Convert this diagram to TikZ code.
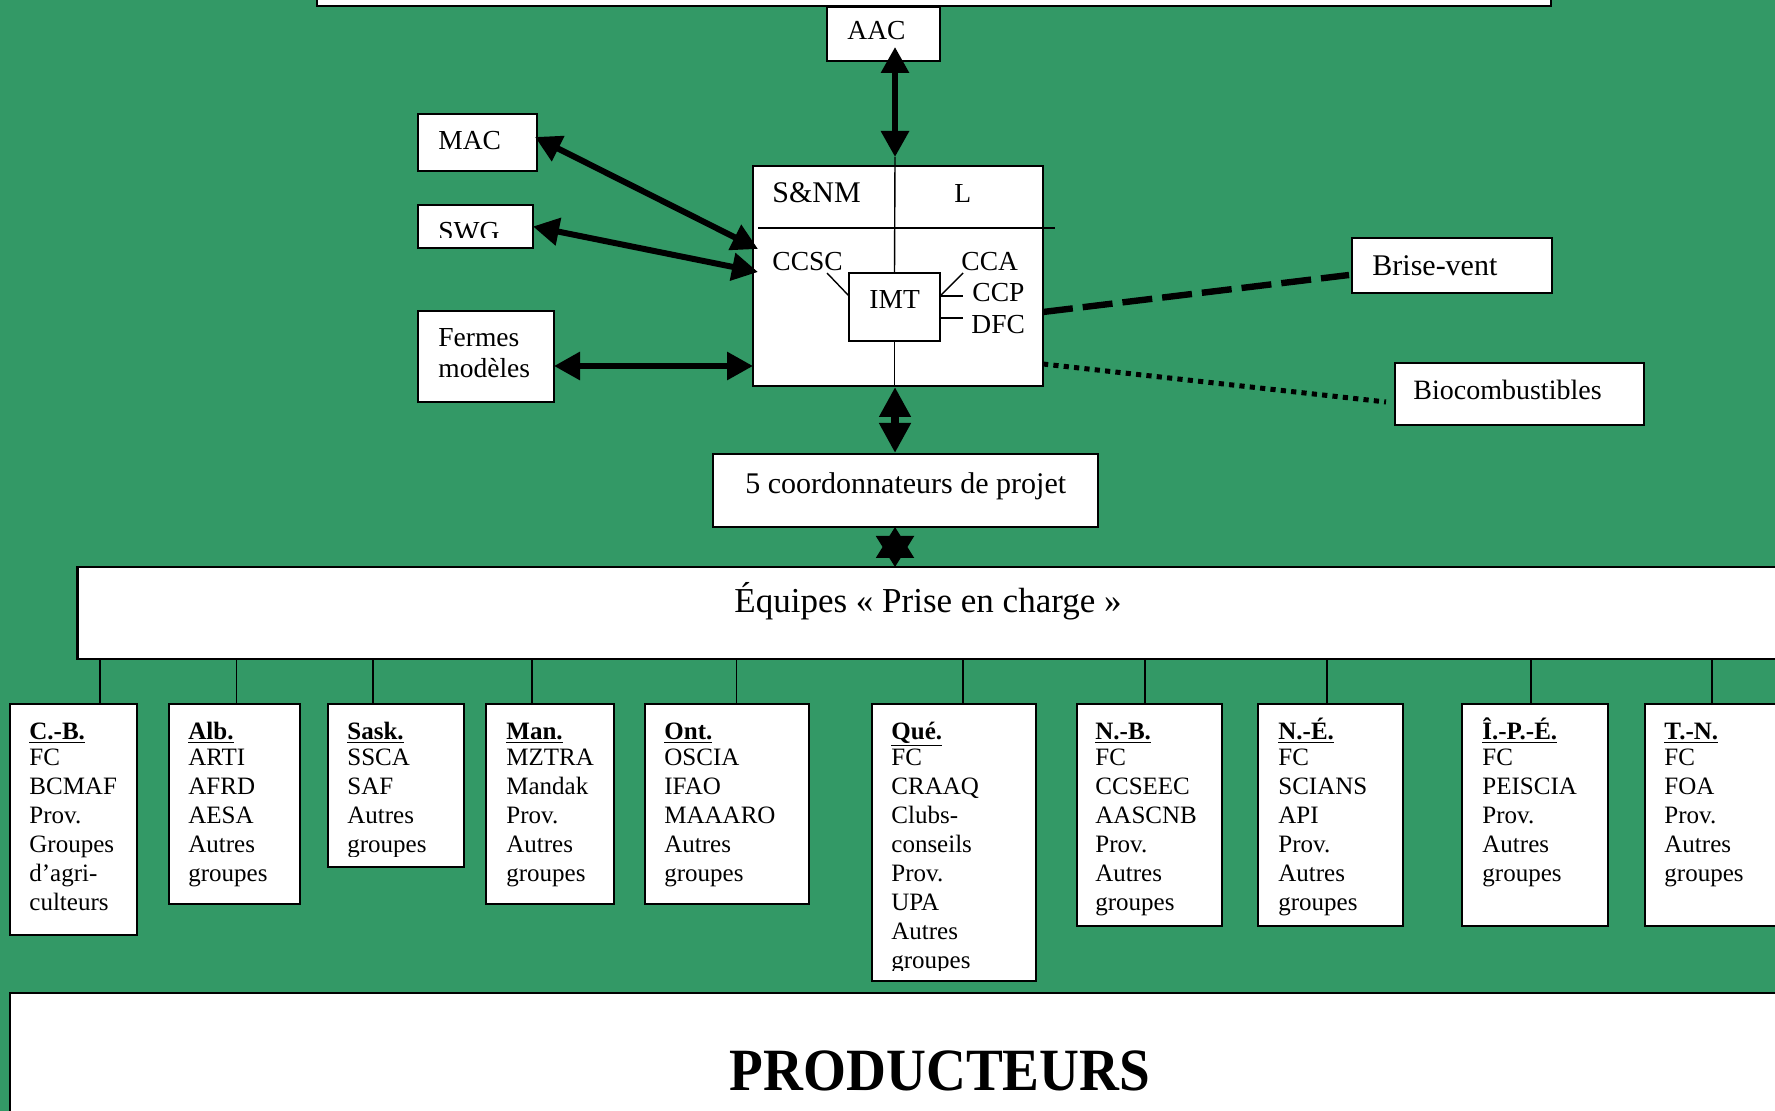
\documentclass[tikz,border=0pt]{standalone}
\usepackage{fontspec}
\setmainfont{Liberation Serif}
\usetikzlibrary{arrows.meta}
\definecolor{bg}{HTML}{339966}
\newcommand\mybox[5]{\node[bx, minimum width={(#4-#2)*0.5pt}, minimum height={(#5-#3)*0.5pt}] (#1) at (#2,#3) {};}
\newcommand\prov[7]{%
  \mybox{#1}{#2}{704}{#3}{#4}
  \begin{scope}
    \clip (#2,704) rectangle (#3,{#4-11});
    \node[ptxt] (#1-h) at (#5,739) {\underline{\textbf{#6}}};
    \foreach \t [count=\i] in {#7} {\node[ptxt] (#1-\i) at (#5,{765+29*(\i-1)}) {\t};}
  \end{scope}}
\begin{document}
\begin{tikzpicture}[x=0.5pt,y=-0.5pt,
  bx/.style={draw=black, line width=1.2pt, fill=white, rectangle, inner sep=0pt, outer sep=0pt, anchor=north west},
  lbl/.style={anchor=base west, inner sep=0pt, font=\fontsize{13.75}{16}\selectfont},
  ptxt/.style={anchor=base west, inner sep=0pt, font=\fontsize{12.5}{14}\selectfont},
  thinline/.style={line width=0.7pt},
  dbl/.style={line width=3pt, {Triangle[length=13pt,width=13.5pt]}-{Triangle[length=13pt,width=13.5pt]}},
  dblbig/.style={line width=4pt, {Triangle[length=15pt,width=15pt]}-{Triangle[length=15pt,width=15pt]}},
  dblstar/.style={line width=1pt, {Triangle[length=15.5pt,width=19pt]}-{Triangle[length=15.5pt,width=19pt]}},
]
\clip (0,0) rectangle (1775,1111);
\fill[bg] (0,0) rectangle (1775,1111);

% boxes
\mybox{top}{317}{-20}{1551}{6}
\mybox{aac}{827}{7}{940}{61}
\mybox{mac}{418}{114}{537}{171}
\mybox{swg}{418}{205}{533}{248}
\mybox{fermes}{418}{311}{554}{402}
\mybox{main}{753}{166}{1043}{386}
\mybox{imt}{849}{273}{940}{341}
\mybox{brise}{1352}{238}{1552}{293}
\mybox{bio}{1395}{363}{1644}{425}
\mybox{coord}{713}{454}{1098}{527}
\mybox{equipes}{77.5}{567}{1790}{659}
\mybox{prod}{10}{993}{1790}{1130}

% texts
\node[lbl] (aac-t) at (847,40) {AAC};
\node[lbl] (mac-t) at (438,150) {MAC};
\begin{scope}
  \clip (418,205) rectangle (533,238);
  \node[lbl] (swg-t) at (438,241) {SWG};
\end{scope}
\node[lbl] (fermes-t1) at (438,347) {Fermes};
\node[lbl] (fermes-t2) at (438,378) {modèles};
\node[lbl, font=\fontsize{15}{17}\selectfont] (snm) at (772,203) {S\&NM};
\node[lbl] (l) at (954,203) {L};
\node[lbl] (ccsc) at (772,271) {CCSC};
\node[lbl] (cca) at (961,271) {CCA};
\node[lbl] (ccp) at (972,302) {CCP};
\node[lbl] (dfc) at (971,334) {DFC};
\node[lbl] (imt-t) at (869,309) {IMT};
\node[lbl, font=\fontsize{15}{17}\selectfont] (brise-t) at (1372,276) {Brise-vent};
\node[lbl, font=\fontsize{14}{17}\selectfont] (bio-t) at (1413,400) {Biocombustibles};
\node[lbl, font=\fontsize{15}{17}\selectfont] (coord-t) at (745,494) {5 coordonnateurs de projet};
\node[lbl, font=\fontsize{17.5}{20}\selectfont] (equipes-t) at (734,612) {Équipes « Prise en charge »};
\node[anchor=base, inner sep=0pt, xscale=0.92, font=\fontsize{30}{34}\selectfont\bfseries] (prod-t) at (940,1090) {PRODUCTEURS};

% inner lines of the main box
\coordinate (hl1) at (758,228);
\coordinate (hl2) at (1055,228);
\draw[thinline] (hl1) -- (hl2);
\coordinate (mainT) at (895,157);
\draw[thinline] (mainT) -- (imt.north);
\draw[thinline] (imt.south) -- (imt.south |- main.south);
\coordinate (ccscE) at (827,273);
\coordinate (ccaE) at (963,273);
\coordinate (imtW) at (849,296);
\coordinate (imtE1) at (940,296);
\coordinate (imtE2) at (940,318);
\coordinate (ccpW) at (963,296);
\coordinate (dfcW) at (963,318);
\draw[thinline] (ccscE) -- (imtW);
\draw[thinline] (ccaE) -- (imtE1);
\draw[thinline] (imtE1) -- (ccpW);
\draw[thinline] (imtE2) -- (dfcW);

% arrows
\coordinate (aacT) at (895,47);
\draw[dbl] (aacT) -- (mainT);
\coordinate (macE) at (535,137);
\coordinate (macM) at (758,249);
\draw[dbl] (macE) -- (macM);
\coordinate (swgM) at (758,272);
\draw[dbl] (swg.east) -- (swgM);
\coordinate (ferE) at (554,366);
\coordinate (ferM) at (753,366);
\draw[dbl] (ferE) -- (ferM);
\coordinate (b1) at (895,387);
\coordinate (b2) at (895,453);
\draw[dblbig] (b1) -- (b2);
\coordinate (s1) at (895,527);
\coordinate (s2) at (895,567);
\draw[dblstar] (s1) -- (s2);

% dashed and dotted
\coordinate (d1) at (1043,312);
\coordinate (d2) at (1349,275);
\draw[line width=3.2pt, dash pattern=on 15pt off 5pt] (d1) -- (d2);
\coordinate (o1) at (1043,364);
\coordinate (o2) at (1386,402);
\draw[line width=2.5pt, dash pattern=on 2.6pt off 2.6pt] (o1) -- (o2);

% provinces
\prov{cb}{10}{137}{935}{29}{C.-B.}{FC,BCMAF,Prov.,Groupes,d’agri-,culteurs}
\prov{alb}{169}{300}{904}{188}{Alb.}{ARTI,AFRD,AESA,Autres,groupes}
\prov{sask}{328}{464}{867}{347}{Sask.}{SSCA,SAF,Autres,groupes}
\prov{man}{486}{614}{904}{506}{Man.}{MZTRA,Mandak,Prov.,Autres,groupes}
\prov{ont}{645}{809}{904}{664}{Ont.}{OSCIA,IFAO,MAAARO,Autres,groupes}
\prov{que}{872}{1036}{981}{891}{Qué.}{FC,CRAAQ,Clubs-,conseils,Prov.,UPA,Autres,groupes}
\prov{nb}{1077}{1222}{926}{1095}{N.-B.}{FC,CCSEEC,AASCNB,Prov.,Autres,groupes}
\prov{ne}{1258}{1403}{926}{1278}{N.-É.}{FC,SCIANS,API,Prov.,Autres,groupes}
\prov{ipe}{1462}{1608}{926}{1482}{Î.-P.-É.}{FC,PEISCIA,Prov.,Autres,groupes}
\prov{tn}{1645}{1790}{926}{1664}{T.-N.}{FC,FOA,Prov.,Autres,groupes}

% connectors from Équipes to each province box
\foreach \p/\xx in {cb/100,alb/236.5,sask/373,man/532,ont/736.5,que/963,nb/1145,ne/1327,ipe/1531,tn/1712}{
  \draw[thinline] (\xx,0 |- equipes.south) -- (\xx,0 |- \p.north);
}
\end{tikzpicture}
\end{document}
